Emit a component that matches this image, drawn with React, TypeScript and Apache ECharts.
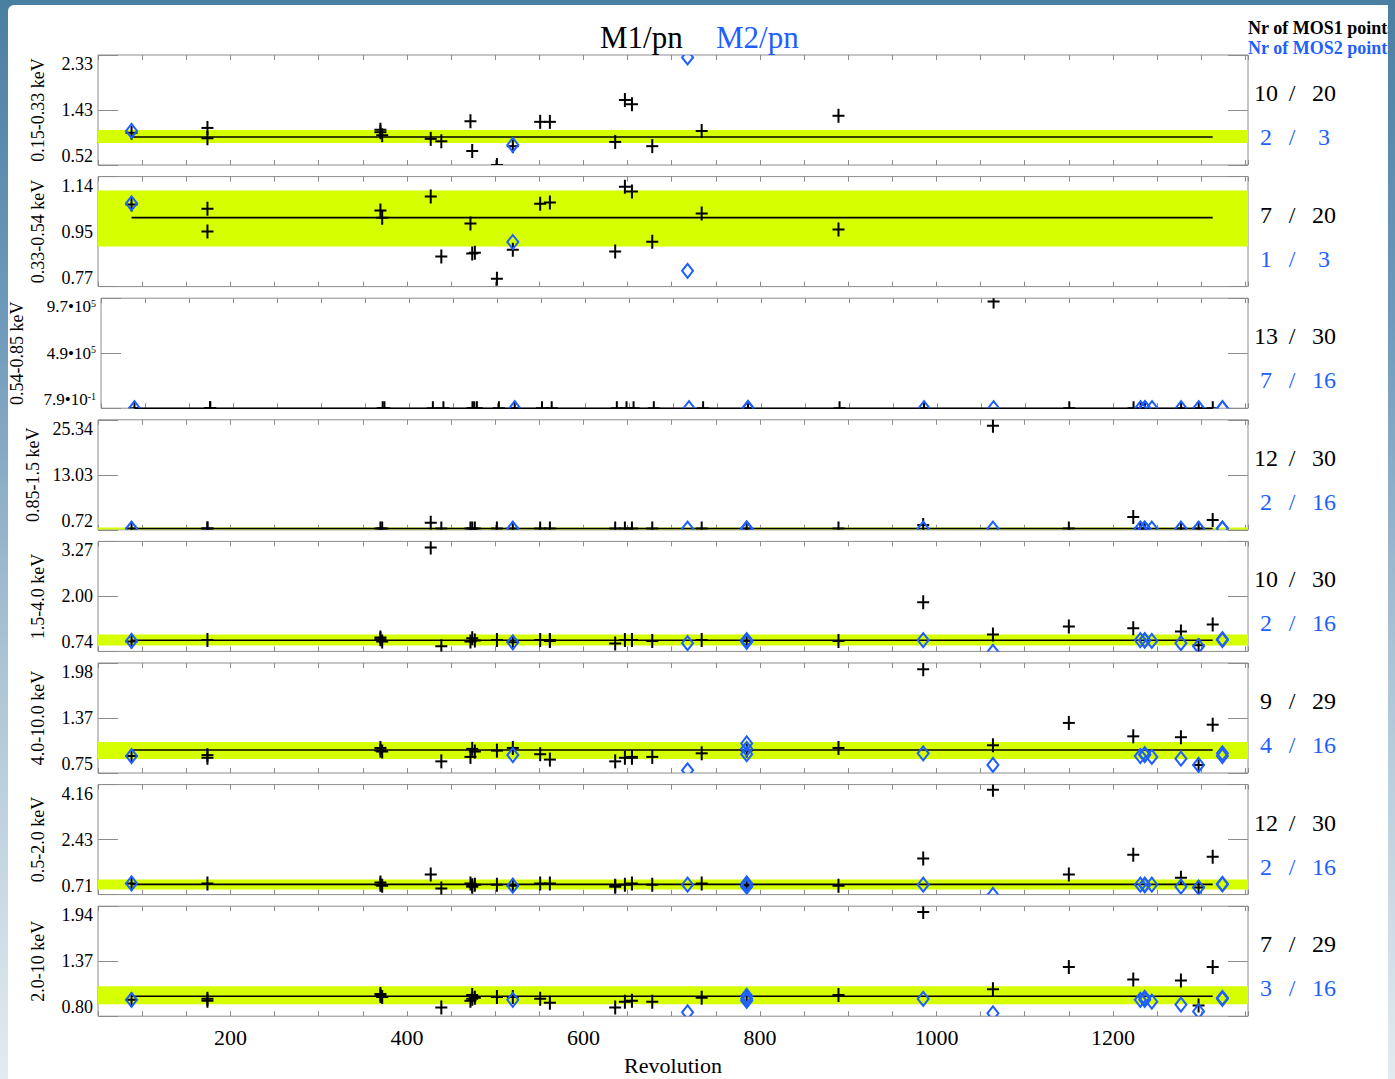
import React, { useEffect, useRef } from 'react';
import * as echarts from 'echarts';

const FONT = '"Liberation Serif", "DejaVu Serif", serif';
const BLUE = '#1f5fff';
const YELLOW = '#d6ff00';
const GRAY = '#8c8c8c';

// ---------- panel definitions ----------
const panelNames = ['0.15-0.33 keV', '0.33-0.54 keV', '0.54-0.85 keV', '0.85-1.5 keV', '1.5-4.0 keV', '4.0-10.0 keV', '0.5-2.0 keV', '2.0-10 keV'];
const yMin = [0.52, 0.77, 0.79, 0.72, 0.74, 0.75, 0.71, 0.8];
const yMax = [2.33, 1.14, 9.7e5, 25.34, 3.27, 1.98, 4.16, 1.94];
const yTickText = [
  ['0.52', '1.43', '2.33'],
  ['0.77', '0.95', '1.14'],
  ['{b|7.9•10}{s|-1}', '{b|4.9•10}{s|5}', '{b|9.7•10}{s|5}'],
  ['0.72', '13.03', '25.34'],
  ['0.74', '2.00', '3.27'],
  ['0.75', '1.37', '1.98'],
  ['0.71', '2.43', '4.16'],
  ['0.80', '1.37', '1.94'],
];
const bandLow = [0.882, 0.905, 0.9, 0.8, 0.878, 0.907, 0.867, 0.925];
const bandHigh = [1.096, 1.093, 1.1, 1.25, 1.131, 1.097, 1.18, 1.111];
const meanLevel = [0.98, 1.002, 1.0, 1.0, 0.995, 1.007, 1.03, 1.007];
const meanRevs = [88, 1313];

const m1Count = ['10', '7', '13', '12', '10', '9', '12', '7'];
const m1Total = ['20', '20', '30', '30', '30', '29', '30', '29'];
const m2Count = ['2', '1', '7', '2', '2', '4', '2', '3'];
const m2Total = ['3', '3', '16', '16', '16', '16', '16', '16'];

const xTickLabels = [200, 400, 600, 800, 1000, 1200];
const xMin = 50;
const xMax = 1353;

// ---------- data: [revolution, ratio] ----------
const m1P1 = [[88, 1.05], [174, 1.13], [174, 0.96], [370, 1.1], [372, 1.01], [370, 1.06], [427, 0.95], [439, 0.91], [472, 1.24], [474, 0.75], [502, 0.52], [520, 0.83], [551, 1.23], [562, 1.23], [636, 0.9], [647, 1.59], [655, 1.52], [678, 0.83], [734, 1.08], [889, 1.33]];
const m2P1 = [[88, 1.08], [520, 0.85], [718, 2.29]];

const m1P2 = [[88, 1.046], [174, 1.032], [174, 0.955], [370, 1.026], [372, 1.002], [427, 1.073], [439, 0.871], [472, 0.982], [474, 0.881], [477, 0.884], [502, 0.796], [520, 0.894], [551, 1.049], [562, 1.053], [636, 0.888], [647, 1.106], [655, 1.09], [678, 0.921], [734, 1.016], [889, 0.962]];
const m2P2 = [[88, 1.05], [520, 0.92], [718, 0.823]];

const m1P3 = [[88, 1.0], [174, 1.0], [174, 1.02], [370, 1.0], [372, 1.01], [427, 0.99], [439, 1.0], [472, 1.0], [474, 1.01], [477, 0.99], [502, 1.0], [520, 1.0], [551, 1.0], [562, 1.01], [636, 1.0], [647, 1.0], [655, 0.99], [678, 1.0], [734, 1.0], [785, 1.0], [889, 1.0], [985, 1.0], [1064, 9.4e5], [1150, 1.0], [1223, 1.0], [1231, 1.0], [1277, 1.0], [1297, 1.0], [1313, 1.0], [1236, 1.0]];
const m2P3 = [[88, 1.0], [520, 1.0], [718, 1.0], [785, 1.0], [785, 1.01], [785, 0.99], [985, 1.0], [1064, 1.0], [1231, 1.0], [1236, 1.0], [1244, 1.0], [1277, 1.0], [1297, 1.0], [1324, 1.0], [1324, 1.01], [1236, 1.01]];

const m1P4 = [[88, 1.0], [174, 1.0], [174, 1.02], [370, 1.0], [372, 1.01], [427, 2.3], [439, 0.99], [472, 1.0], [474, 1.01], [477, 0.99], [502, 1.0], [520, 1.0], [551, 1.0], [562, 1.01], [636, 1.0], [647, 1.0], [655, 0.99], [678, 1.0], [734, 1.0], [785, 1.0], [889, 1.0], [985, 1.8], [1064, 24.0], [1150, 1.0], [1223, 3.6], [1231, 1.0], [1277, 1.0], [1297, 1.0], [1313, 2.9], [1236, 1.0]];
const m2P4 = [[88, 1.0], [520, 1.0], [718, 1.0], [785, 1.0], [785, 1.01], [785, 0.99], [985, 1.0], [1064, 1.0], [1231, 1.0], [1236, 1.0], [1244, 1.0], [1277, 1.0], [1297, 1.0], [1324, 1.0], [1324, 1.01], [1236, 1.01]];

const m1P5 = [[88, 0.97], [174, 1.0], [370, 1.06], [372, 0.97], [370, 1.02], [427, 3.13], [439, 0.86], [472, 0.97], [474, 1.04], [477, 0.99], [502, 1.0], [520, 0.95], [551, 1.0], [562, 1.0], [562, 0.98], [636, 0.92], [647, 1.0], [655, 1.0], [678, 0.98], [734, 1.0], [785, 0.98], [889, 0.98], [985, 1.87], [1064, 1.13], [1150, 1.31], [1223, 1.27], [1277, 1.2], [1297, 0.88], [1313, 1.36]];
const m2P5 = [[88, 0.98], [520, 0.95], [718, 0.93], [785, 0.98], [785, 0.96], [785, 1.0], [985, 1.0], [1064, 0.73], [1231, 1.0], [1236, 1.0], [1236, 0.99], [1244, 0.98], [1277, 0.93], [1297, 0.86], [1324, 1.02], [1324, 1.0]];

const m1P6 = [[88, 0.94], [174, 0.95], [174, 0.92], [370, 1.03], [372, 0.99], [370, 1.0], [439, 0.88], [472, 0.93], [474, 1.02], [477, 0.99], [502, 1.0], [520, 1.03], [551, 0.96], [562, 0.9], [636, 0.88], [647, 0.92], [655, 0.93], [655, 0.92], [678, 0.93], [734, 0.97], [785, 1.0], [889, 1.03], [985, 1.91], [1064, 1.06], [1150, 1.31], [1223, 1.16], [1277, 1.15], [1297, 0.84], [1313, 1.29]];
const m2P6 = [[88, 0.94], [520, 0.95], [718, 0.78], [785, 1.08], [785, 1.02], [785, 0.96], [985, 0.97], [1064, 0.84], [1231, 0.94], [1236, 0.96], [1236, 0.95], [1244, 0.93], [1277, 0.91], [1297, 0.84], [1324, 0.97], [1324, 0.94]];

const m1P7 = [[88, 1.06], [174, 1.06], [370, 1.09], [372, 0.99], [370, 1.02], [427, 1.34], [439, 0.9], [472, 1.06], [474, 0.96], [474, 1.0], [477, 1.02], [502, 1.02], [520, 0.99], [551, 1.06], [562, 1.06], [636, 0.96], [636, 0.99], [647, 1.02], [655, 1.06], [678, 1.02], [734, 1.06], [785, 0.99], [889, 0.99], [985, 1.84], [1064, 4.0], [1150, 1.34], [1223, 1.96], [1277, 1.24], [1297, 0.93], [1313, 1.9]];
const m2P7 = [[88, 1.06], [520, 0.99], [718, 1.02], [785, 1.06], [785, 0.99], [785, 0.96], [985, 1.02], [1064, 0.7], [1231, 1.02], [1236, 1.02], [1236, 1.0], [1244, 1.02], [1277, 0.96], [1297, 0.93], [1324, 1.05], [1324, 1.03]];

const m1P8 = [[88, 0.97], [174, 0.98], [174, 0.96], [370, 1.03], [372, 1.0], [370, 1.01], [439, 0.89], [472, 0.96], [474, 1.02], [474, 0.98], [477, 0.99], [502, 1.0], [520, 1.0], [551, 0.98], [562, 0.94], [636, 0.89], [647, 0.95], [655, 0.96], [678, 0.95], [734, 0.99], [785, 1.01], [889, 1.02], [985, 1.88], [1064, 1.08], [1150, 1.31], [1223, 1.18], [1277, 1.17], [1297, 0.91], [1313, 1.31]];
const m2P8 = [[88, 0.97], [520, 0.97], [718, 0.84], [785, 1.01], [785, 0.98], [785, 0.96], [985, 0.98], [1064, 0.83], [1231, 0.97], [1236, 0.99], [1236, 0.97], [1244, 0.95], [1277, 0.92], [1297, 0.85], [1324, 0.99], [1324, 0.98]];

const m1Data = [m1P1, m1P2, m1P3, m1P4, m1P5, m1P6, m1P7, m1P8];
const m2Data = [m2P1, m2P2, m2P3, m2P4, m2P5, m2P6, m2P7, m2P8];

// ---------- layout ----------
const GRID_LEFT = 98;
const GRID_W = 1150;
const GRID_H = 110;
const FIRST_TOP = 55;
const STEP = 121.6;

function renderPlus(params: any, api: any) {
  const p = api.coord([api.value(0), api.value(1)]);
  const st = { stroke: '#000', lineWidth: 2 };
  return {
    type: 'group',
    children: [
      { type: 'line', shape: { x1: p[0] - 6, y1: p[1], x2: p[0] + 6, y2: p[1] }, style: st },
      { type: 'line', shape: { x1: p[0], y1: p[1] - 7, x2: p[0], y2: p[1] + 7 }, style: st },
    ],
  };
}

function renderDiamond(params: any, api: any) {
  const p = api.coord([api.value(0), api.value(1)]);
  return {
    type: 'polygon',
    shape: { points: [[p[0], p[1] - 7], [p[0] + 5.5, p[1]], [p[0], p[1] + 7], [p[0] - 5.5, p[1]]] },
    style: { fill: 'none', stroke: BLUE, lineWidth: 2 },
  };
}

function buildOption() {
  const grid: any[] = [];
  const xAxis: any[] = [];
  const yAxis: any[] = [];
  const series: any[] = [];
  const graphic: any[] = [];

  for (let i = 0; i < 8; i++) {
    const top = FIRST_TOP + i * STEP;
    const lo = yMin[i];
    const hi = yMax[i];
    const mid = (lo + hi) / 2;
    const tickVals = [lo, mid, hi];
    grid.push({ left: GRID_LEFT, top, width: GRID_W, height: GRID_H, show: true, borderColor: GRAY, borderWidth: 1, backgroundColor: 'transparent' });

    const xBase = {
      type: 'value', gridIndex: i, min: xMin, max: xMax, interval: 50,
      axisLine: { show: false }, splitLine: { show: false },
      axisTick: { inside: true, length: 5, lineStyle: { color: GRAY } },
    };
    xAxis.push({
      ...xBase, position: 'bottom',
      axisLabel: i === 7
        ? { customValues: xTickLabels, formatter: (v: number) => String(v), fontFamily: FONT, fontSize: 22, color: '#000', margin: 10 }
        : { show: false },
      name: i === 7 ? 'Revolution' : '',
      nameLocation: 'middle', nameGap: 38,
      nameTextStyle: { fontFamily: FONT, fontSize: 22, color: '#000' },
    });
    xAxis.push({ ...xBase, position: 'top', axisLabel: { show: false } });

    const labels = yTickText[i];
    const fmt = (v: number) => {
      let best = 0;
      let bd = Infinity;
      tickVals.forEach((t, k) => { const d = Math.abs(t - v); if (d < bd) { bd = d; best = k; } });
      return labels[best];
    };
    const yBase = {
      type: 'value', gridIndex: i, min: lo, max: hi,
      axisLine: { show: false }, splitLine: { show: false },
      axisTick: { inside: true, length: 20, customValues: tickVals, lineStyle: { color: GRAY } },
    };
    yAxis.push({
      ...yBase, position: 'left',
      axisLabel: {
        customValues: tickVals, formatter: fmt, fontFamily: FONT, fontSize: 18, color: '#000', margin: 5,
        verticalAlignMinLabel: 'bottom', verticalAlignMaxLabel: 'top',
        rich: {
          b: { fontFamily: FONT, fontSize: 17, color: '#000' },
          s: { fontFamily: FONT, fontSize: 10, color: '#000', verticalAlign: 'top' },
        },
      },
      name: panelNames[i], nameLocation: 'middle', nameRotate: 90, nameGap: i === 2 ? 75 : 51,
      nameTextStyle: { fontFamily: FONT, fontSize: 18, color: '#000' },
    });
    yAxis.push({ ...yBase, position: 'right', axisLabel: { show: false } });

    series.push({
      type: 'line', xAxisIndex: 2 * i, yAxisIndex: 2 * i, z: 1,
      data: meanRevs.map((r) => [r, meanLevel[i]]),
      symbol: 'none', lineStyle: { color: '#000', width: 1.6 },
      markArea: { silent: true, itemStyle: { color: YELLOW }, data: [[{ yAxis: bandLow[i] }, { yAxis: bandHigh[i] }]] },
    });
    series.push({
      type: 'custom', name: 'M1/pn', xAxisIndex: 2 * i, yAxisIndex: 2 * i, z: 3, clip: true,
      data: m1Data[i], renderItem: renderPlus,
    });
    series.push({
      type: 'custom', name: 'M2/pn', xAxisIndex: 2 * i, yAxisIndex: 2 * i, z: 4, clip: true,
      data: m2Data[i], renderItem: renderDiamond,
    });

    const numFont = `24px ${FONT}`;
    const yA = top + 38;
    const yB = top + 82;
    graphic.push(
      { type: 'text', x: 1266, y: yA, style: { text: m1Count[i], font: numFont, fill: '#000', textAlign: 'center', textVerticalAlign: 'middle' } },
      { type: 'text', x: 1292, y: yA, style: { text: '/', font: numFont, fill: '#000', textAlign: 'center', textVerticalAlign: 'middle' } },
      { type: 'text', x: 1324, y: yA, style: { text: m1Total[i], font: numFont, fill: '#000', textAlign: 'center', textVerticalAlign: 'middle' } },
      { type: 'text', x: 1266, y: yB, style: { text: m2Count[i], font: numFont, fill: BLUE, textAlign: 'center', textVerticalAlign: 'middle' } },
      { type: 'text', x: 1292, y: yB, style: { text: '/', font: numFont, fill: BLUE, textAlign: 'center', textVerticalAlign: 'middle' } },
      { type: 'text', x: 1324, y: yB, style: { text: m2Total[i], font: numFont, fill: BLUE, textAlign: 'center', textVerticalAlign: 'middle' } },
    );
  }

  graphic.push(
    { type: 'text', x: 600, y: 37, style: { text: 'M1/pn', font: `31px ${FONT}`, fill: '#000', textAlign: 'left', textVerticalAlign: 'middle' } },
    { type: 'text', x: 716, y: 37, style: { text: 'M2/pn', font: `31px ${FONT}`, fill: BLUE, textAlign: 'left', textVerticalAlign: 'middle' } },
    { type: 'text', x: 1248, y: 28, style: { text: 'Nr of MOS1 points', font: `bold 18px ${FONT}`, fill: '#000', textAlign: 'left', textVerticalAlign: 'middle' } },
    { type: 'text', x: 1248, y: 48, style: { text: 'Nr of MOS2 points', font: `bold 18px ${FONT}`, fill: BLUE, textAlign: 'left', textVerticalAlign: 'middle' } },
  );

  return {
    animation: false,
    backgroundColor: 'transparent',
    grid, xAxis, yAxis, series, graphic,
  };
}

export default function App() {
  const ref = useRef<HTMLDivElement>(null);
  useEffect(() => {
    if (!ref.current) return;
    const chart = echarts.init(ref.current, null, { renderer: 'svg' });
    chart.setOption(buildOption() as any);
    return () => chart.dispose();
  }, []);

  const frameBg = 'linear-gradient(to bottom, #4a7fa1 0%, #6f9abb 30%, #a9c2d4 60%, #e3ebf0 100%)';
  return (
    <div style={{ position: 'fixed', left: 0, top: 0, width: 1395, height: 1079, background: frameBg, overflow: 'hidden' }}>
      <div style={{ position: 'absolute', left: 8, top: 5, width: 1380, height: 1074, background: '#fff', borderTopLeftRadius: 6 }} />
      <div ref={ref} style={{ position: 'absolute', left: 0, top: 0, width: 1395, height: 1079 }} />
      <div style={{ position: 'absolute', left: 1388, top: 0, width: 7, height: 1079, background: frameBg }} />
    </div>
  );
}
